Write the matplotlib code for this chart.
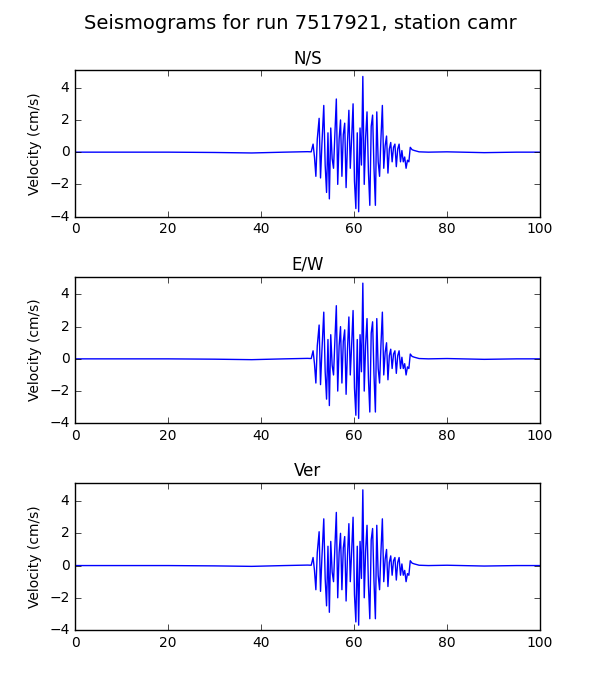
import matplotlib
matplotlib.use("Agg")
import matplotlib.pyplot as plt

# tempo (s) e velocidade (cm/s)
tempo = [0, 20, 30, 38, 45, 50, 50.8, 51.2, 51.5, 51.8, 52.1, 52.5, 52.8, 53.1, 53.5, 53.8,
         54.1, 54.4, 54.7, 55.0, 55.3, 55.6, 55.9, 56.2, 56.5, 56.8, 57.1, 57.4, 57.7,
         58.0, 58.3, 58.6, 58.9, 59.2, 59.5, 59.8, 60.1, 60.4, 60.7, 61.0, 61.3, 61.6,
         61.9, 62.2, 62.5, 62.8, 63.1, 63.4, 63.7, 64.0, 64.3, 64.6, 64.9, 65.2, 65.5,
         65.8, 66.1, 66.4, 66.7, 67.0, 67.3, 67.6, 67.9, 68.2, 68.5, 68.8, 69.1, 69.4,
         69.7, 70.0, 70.3, 70.6, 70.9, 71.2, 71.5, 71.8, 72.1, 72.5, 73.0, 74, 76, 80, 88, 95, 100]
velocidade = [0, 0, -0.02, -0.05, 0, 0.03, 0.02, 0.5, -0.3, -1.5, 0.8, 2.1, -1.6, 0.5,
              2.9, -0.8, -2.5, 1.2, -2.9, 1.5, -0.4, -1.0, 1.2, 3.3, -2.0, 0.8, 2.0, -1.5,
              1.1, 1.8, -2.2, 0.6, 2.6, -1.0, 0.9, 3.0, -1.8, -3.5, 1.2, -3.7, 1.5, -0.8,
              4.7, -2.0, 0.9, 2.5, -1.2, -3.3, 1.6, 2.3, -1.0, -3.3, 2.5, -0.6, -1.5, 0.9,
              2.9, -1.0, 0.4, 1.0, -1.3, 0.2, 0.6, -0.6, 0.3, 0.5, -0.9, 0.2, 0.5, -0.6,
              0.1, -0.6, -0.3, -1.0, -0.5, -0.6, 0.3, 0.15, 0.1, 0.02, 0.0, 0.02, -0.03, 0.0, 0.0]

componentes = ["N/S", "E/W", "Ver"]

plt.style.use("classic")
fig, eixos = plt.subplots(3, 1, figsize=(6, 7), dpi=100)
fig.patch.set_facecolor("white")
fig.subplots_adjust(left=0.125, right=0.9, top=0.9, bottom=0.1, hspace=0.41)
fig.suptitle("Seismograms for run 7517921, station camr", fontsize=14)

for ax, nome in zip(eixos, componentes):
    ax.plot(tempo, velocidade, color="blue", linewidth=1)
    ax.set_title(nome, fontsize=12)
    ax.set_ylabel("Velocity (cm/s)", fontsize=10)
    ax.set_xlim(0, 100)
    ax.set_ylim(-4, 5.1)
    ax.set_yticks([-4, -2, 0, 2, 4])
    ax.tick_params(labelsize=10)

fig.savefig("out.png")
